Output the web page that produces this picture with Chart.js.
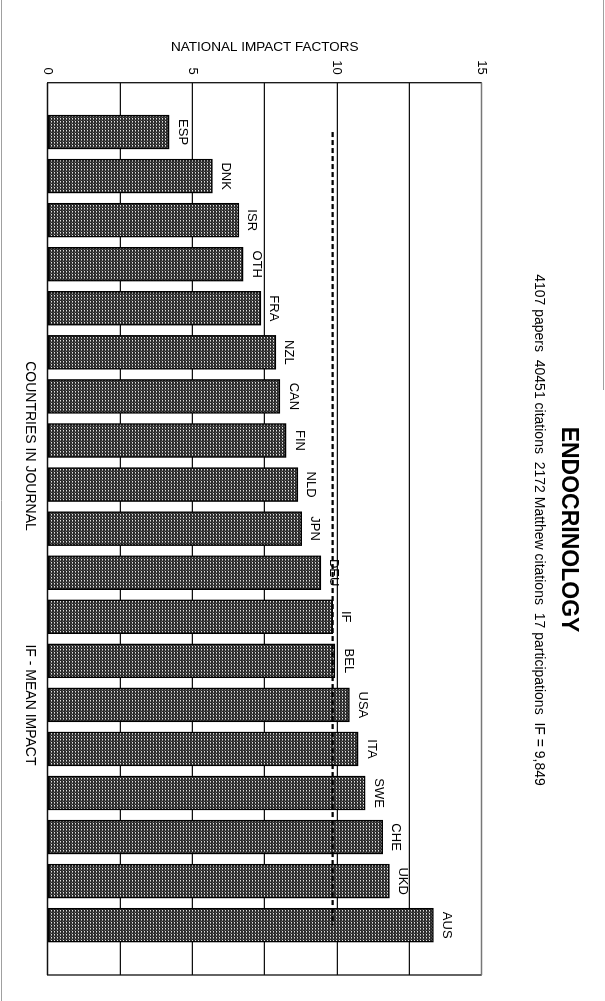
<!DOCTYPE html>
<html><head><meta charset="utf-8">
<script src="https://cdn.jsdelivr.net/npm/chart.js@4/dist/chart.umd.min.js"></script>
<style>
html,body{margin:0;padding:0;background:#fff;overflow:hidden;width:605px;height:1001px;}
#wrap{position:absolute;left:0;top:0;width:1001px;height:605px;transform-origin:0 0;transform:translate(605px,0) rotate(90deg);}
canvas{display:block;}
</style></head><body>
<div id="wrap"><canvas id="c" width="1001" height="605"></canvas></div>
<script>
const categories = ['ESP','DNK','ISR','OTH','FRA','NZL','CAN','FIN','NLD','JPN','DEU','IF','BEL','USA','ITA','SWE','CHE','UKD','AUS'];
const impactFactors = [4.20,5.69,6.61,6.76,7.37,7.89,8.03,8.24,8.65,8.78,9.44,9.849,9.93,10.43,10.73,10.97,11.58,11.81,13.33];
const meanIF = 9.849;
const valueTicks = [0,5,10,15];
const chartTitle = 'ENDOCRINOLOGY';
const chartSubtitle = '4107 papers  40451 citations  2172 Matthew citations  17 participations  IF = 9,849';
const axisTitle = 'NATIONAL IMPACT FACTORS';
const footerTexts = ['COUNTRIES IN JOURNAL', 'IF - MEAN IMPACT'];

const FONT = "'Liberation Sans', Arial, Helvetica, sans-serif";

function makePattern(){
  const c=document.createElement('canvas'); c.width=3; c.height=3;
  const g=c.getContext('2d');
  g.fillStyle='#2a2a2a'; g.fillRect(0,0,3,3);
  g.fillStyle='#e2e2e2'; g.fillRect(1,1,1,1);
  g.fillStyle='#8c8c8c'; g.fillRect(2,1,1,1);
  g.fillStyle='#555555'; g.fillRect(0,2,1,1);
  return g.createPattern(c,'repeat');
}

const decor = {
  id:'decor',
  beforeDraw(chart){
    const ctx=chart.ctx; ctx.save(); ctx.strokeStyle='#a0a0a0'; ctx.lineWidth=1;
    ctx.beginPath(); ctx.moveTo(0,603.5); ctx.lineTo(1001,603.5); ctx.stroke();
    ctx.beginPath(); ctx.moveTo(0,1.5); ctx.lineTo(390,1.5); ctx.stroke();
    ctx.restore();
  },
  afterDatasetsDraw(chart){
    const {ctx, chartArea:a, scales:{x,y}} = chart;
    ctx.save();
    // frame
    ctx.strokeStyle='#111'; ctx.lineWidth=1.3;
    ctx.beginPath();
    ctx.moveTo(a.left,a.top); ctx.lineTo(a.left,a.bottom); ctx.lineTo(a.right,a.bottom); ctx.lineTo(a.right,a.top);
    ctx.stroke();
    ctx.strokeStyle='#777';
    ctx.beginPath(); ctx.moveTo(a.left,a.top); ctx.lineTo(a.right,a.top); ctx.stroke();
    // mean IF dashed line
    const yy = y.getPixelForValue(meanIF);
    ctx.setLineDash([5,3]); ctx.lineWidth=2.4; ctx.strokeStyle='#000';
    ctx.beginPath(); ctx.moveTo(x.getPixelForValue(0), yy); ctx.lineTo(x.getPixelForValue(categories.length-1), yy); ctx.stroke();
    ctx.setLineDash([]);
    // category labels at bar ends
    ctx.fillStyle='#000'; ctx.font='13px '+FONT; ctx.textAlign='center'; ctx.textBaseline='alphabetic';
    const meta = chart.getDatasetMeta(0);
    meta.data.forEach((bar,i)=>{ ctx.fillText(categories[i], bar.x, bar.y-9.5); });
    // title & subtitle
    ctx.font='bold 23px '+FONT; ctx.textBaseline='alphabetic';
    ctx.fillText(chartTitle, 529.5, 43);
    ctx.font='14px '+FONT; ctx.textBaseline='middle';
    ctx.fillText(chartSubtitle, 530, 66);
    // footer texts
    ctx.font='14px '+FONT;
    ctx.fillText(footerTexts[0], 446, 575);
    ctx.fillText(footerTexts[1], 705, 575);
    ctx.restore();
  }
};

const chart = new Chart(document.getElementById('c'), {
  type:'bar',
  data:{
    datasets:[{
      data: impactFactors.map((v,i)=>({x:i, y:v})),
      backgroundColor: makePattern(),
      borderColor:'#000',
      borderWidth:1.5,
      borderSkipped:false,
      barThickness:34
    }]
  },
  options:{
    responsive:false,
    animation:false,
    events:[],
    layout:{padding:{left:0,right:26,top:123.3,bottom:47.7}},
    plugins:{legend:{display:false},tooltip:{enabled:false},title:{display:false}},
    scales:{
      x:{type:'linear', display:false, offset:false, bounds:'data', min:-1.12, max:19.13, grid:{offset:false}},
      y:{
        type:'linear', min:0, max:15,
        afterFit(s){ s.width = 82.7; },
        border:{display:false},
        grid:{drawTicks:false, lineWidth:1.3, color:c => (c.tick && c.tick.value===15) ? '#777' : '#111'},
        ticks:{stepSize:2.5, padding:8, color:'#000', font:{size:13, family:FONT},
               callback:v => valueTicks.includes(v) ? String(v) : ''},
        title:{display:true, text:axisTitle, color:'#000', font:{size:13.5, family:FONT}, padding:{top:39,bottom:0}}
      }
    }
  },
  plugins:[decor]
});
</script>
</body></html>
